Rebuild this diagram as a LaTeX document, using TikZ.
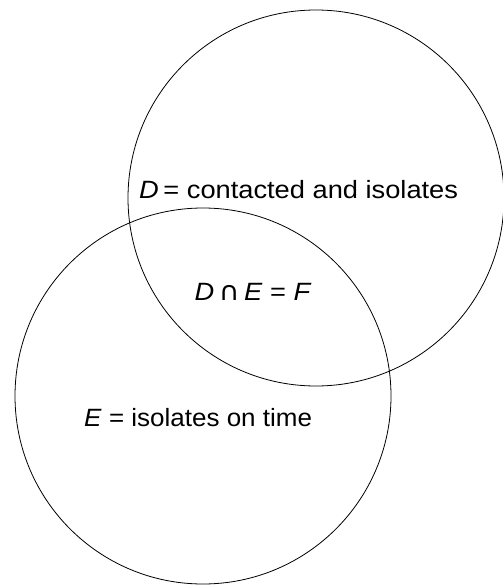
\documentclass[tikz,border=0pt]{standalone}
\usepackage{fontspec}
\setmainfont{Liberation Sans}
\newfontfamily\symfont{DejaVu Sans}
\newcommand{\wide}[1]{\scalebox{1.09}[1]{#1}}
\begin{document}
\begin{tikzpicture}[x=1pt,y=-1pt,
  setcircle/.style={draw=black,line width=0.8pt},
  lbl/.style={font=\fontsize{25}{29}\selectfont,inner sep=0pt}]
\useasboundingbox (0,0) rectangle (503,586);
\draw[setcircle] (316,198) circle[radius=188];
\draw[setcircle] (203,396) circle[radius=188];
\node[lbl,anchor=west] (d) at (139,190) {\wide{\textit{D}\,= contacted and isolates}};
\node[lbl] (f) at (253,292) {\wide{\textit{D}\,{\symfont\fontsize{26}{29}\selectfont ∩}\,\textit{E} = \textit{F}}};
\node[lbl,anchor=west] (e) at (84,418) {\scalebox{1.04}[1]{\textit{E} = isolates on time}};
\end{tikzpicture}
\end{document}
